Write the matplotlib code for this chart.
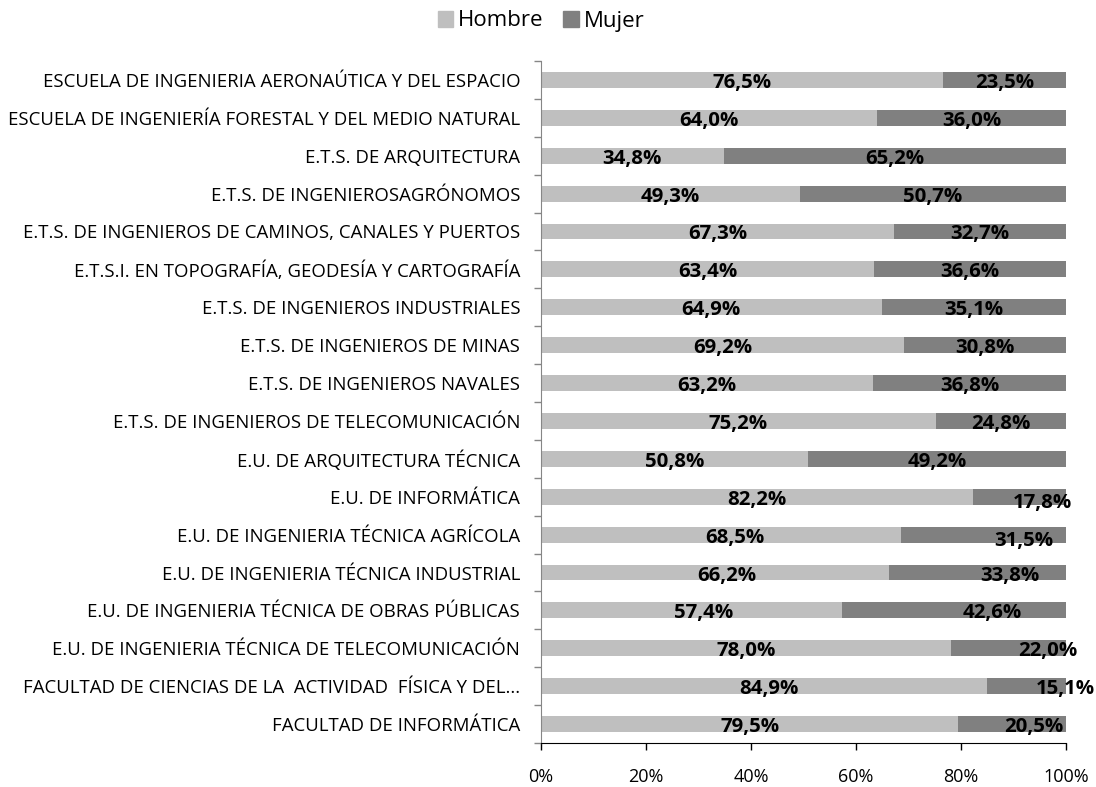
import numpy as np
import matplotlib
matplotlib.use("Agg")
import matplotlib.pyplot as plt
from matplotlib.patches import Patch

plt.rcParams['font.family'] = ['Open Sans', 'DejaVu Sans']

categories = [
    "ESCUELA DE INGENIERIA AERONAÚTICA Y DEL ESPACIO",
    "ESCUELA DE INGENIERÍA FORESTAL Y DEL MEDIO NATURAL",
    "E.T.S. DE ARQUITECTURA",
    "E.T.S. DE INGENIEROSAGRÓNOMOS",
    "E.T.S. DE INGENIEROS DE CAMINOS, CANALES Y PUERTOS",
    "E.T.S.I. EN TOPOGRAFÍA, GEODESÍA Y CARTOGRAFÍA",
    "E.T.S. DE INGENIEROS INDUSTRIALES",
    "E.T.S. DE INGENIEROS DE MINAS",
    "E.T.S. DE INGENIEROS NAVALES",
    "E.T.S. DE INGENIEROS DE TELECOMUNICACIÓN",
    "E.U. DE ARQUITECTURA TÉCNICA",
    "E.U. DE INFORMÁTICA",
    "E.U. DE INGENIERIA TÉCNICA AGRÍCOLA",
    "E.U. DE INGENIERIA TÉCNICA INDUSTRIAL",
    "E.U. DE INGENIERIA TÉCNICA DE OBRAS PÚBLICAS",
    "E.U. DE INGENIERIA TÉCNICA DE TELECOMUNICACIÓN",
    "FACULTAD DE CIENCIAS DE LA  ACTIVIDAD  FÍSICA Y DEL...",
    "FACULTAD DE INFORMÁTICA",
]
hombre = [76.5, 64.0, 34.8, 49.3, 67.3, 63.4, 64.9, 69.2, 63.2, 75.2,
          50.8, 82.2, 68.5, 66.2, 57.4, 78.0, 84.9, 79.5]
mujer = [23.5, 36.0, 65.2, 50.7, 32.7, 36.6, 35.1, 30.8, 36.8, 24.8,
         49.2, 17.8, 31.5, 33.8, 42.6, 22.0, 15.1, 20.5]
series_names = ["Hombre", "Mujer"]
x_ticks = [0, 20, 40, 60, 80, 100]

# label nudges (percentage points) as displayed in the original chart
hombre_nudge = [0, 0, 0, 0, 0, 0, 0, 0, 0, 0, 0, 0, 2.7, 2.2, 2.2, 0, 0.9, 0]
mujer_nudge = [0, 0, 0, 0, 0, 0, 0, 0, 0, 0, 0, 4.5, 7.8, 6.2, 7.2, 7.5, 7.4, 4.2]
mujer_drop = [0, 0, 0, 0, 0, 0, 0, 0, 0, 0, 0, 3, 3, 0, 0, 0, 0, 0]

c_h = "#BFBFBF"
c_m = "#808080"

fig = plt.figure(figsize=(10.96, 7.87), dpi=100)
ax = fig.add_axes([541 / 1096, 1 - 743 / 787, (1066 - 541) / 1096, (743 - 61) / 787])

n = len(categories)
y = np.arange(n)
h = np.array(hombre)
m = np.array(mujer)
bh = 0.42
ax.barh(y, h, height=bh, color=c_h, label=series_names[0])
ax.barh(y, m, left=h, height=bh, color=c_m, label=series_names[1])

def fmt(v):
    return f"{v:.1f}%".replace('.', ',')

for i in range(n):
    ax.annotate(fmt(h[i]), (h[i] / 2 + hombre_nudge[i], y[i]), xytext=(0, -3),
                textcoords='offset pixels', ha='center', va='center',
                fontsize=14.7, fontweight='bold', color='black')
    ax.annotate(fmt(m[i]), (h[i] + m[i] / 2 + mujer_nudge[i], y[i]),
                xytext=(0, -3 - mujer_drop[i]), textcoords='offset pixels',
                ha='center', va='center', fontsize=14.7, fontweight='bold',
                color='black', annotation_clip=False)

ax.set_xlim(0, 100)
ax.set_ylim(n - 0.5, -0.5)
ax.set_xticks(x_ticks)
ax.set_xticklabels([f"{t}%" for t in x_ticks], fontsize=13)
ax.set_yticks(y)
ax.set_yticklabels(categories, fontsize=13.4)
ax.set_yticks(np.arange(n + 1) - 0.5, minor=True)
ax.tick_params(axis='y', which='major', length=0, pad=15)
ax.tick_params(axis='y', which='minor', length=5, color='#868686', width=1)
ax.tick_params(axis='x', which='major', length=5, color='black', width=1, pad=13)

for s in ['top', 'right']:
    ax.spines[s].set_visible(False)
ax.spines['left'].set_color('#868686')
ax.spines['bottom'].set_color('black')

handles = [Patch(color=c_h), Patch(color=c_m)]
fig.legend(handles, series_names, loc='center', bbox_to_anchor=(541 / 1096, 1 - 21 / 787),
           ncol=2, frameon=False, fontsize=16, handlelength=0.7, handleheight=0.7,
           handletextpad=0.2, columnspacing=0.9)

fig.savefig("out.png", dpi=100)
